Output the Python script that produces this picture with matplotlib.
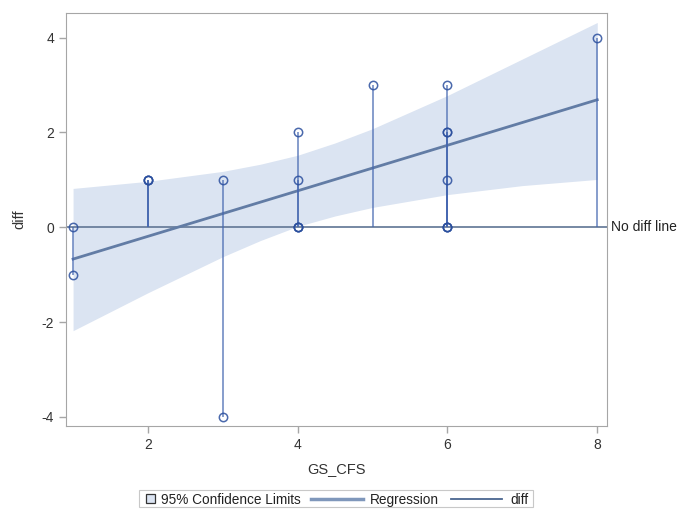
import matplotlib
matplotlib.use("Agg")
import matplotlib.pyplot as plt
from matplotlib.patches import Rectangle
from matplotlib.lines import Line2D

plt.rcParams['font.family'] = ['Liberation Sans', 'DejaVu Sans']
plt.rcParams['axes.unicode_minus'] = False

# observed (GS_CFS, diff) pairs, duplicates kept
gs_cfs = [1, 1, 2, 2, 2, 3, 3, 4, 4, 4, 4, 4, 5, 6, 6, 6, 6, 6, 6, 6, 8]
diff = [0, -1, 1, 1, 1, 1, -4, 2, 1, 0, 0, 0, 3, 3, 2, 2, 1, 0, 0, 0, 4]

# regression line and 95% confidence limits
fit_x = [1, 2, 3, 3.5, 4, 4.5, 5, 6, 7, 8]
fit_y = [-0.67, -0.19, 0.29, 0.53, 0.77, 1.01, 1.25, 1.73, 2.21, 2.69]
ci_lower = [-2.18, -1.38, -0.62, -0.28, 0.02, 0.24, 0.42, 0.69, 0.88, 1.01]
ci_upper = [0.82, 0.97, 1.18, 1.33, 1.52, 1.78, 2.08, 2.78, 3.55, 4.32]

legend_labels = ["95% Confidence Limits", "Regression", "diff"]

band_col = "#dbe4f2"
reg_col = "#627ca5"
stem_col = "#4466b0"
mark_col = "#2b4f9e"
W, H = 690, 528

fig = plt.figure(figsize=(W / 100, H / 100), dpi=100)
ax = fig.add_axes([0.0957, 0.1932, 0.784, 0.7822])

ax.fill_between(fit_x, ci_lower, ci_upper, color=band_col, lw=0, zorder=1)
ax.axhline(0, color="#6b7f9c", lw=1.3, zorder=2)
ax.plot(fit_x, fit_y, color=reg_col, lw=2, zorder=3)

# needles from zero to each value
ax.vlines(gs_cfs, 0, diff, color=stem_col, lw=1.2, alpha=0.75, zorder=4)
ax.plot(gs_cfs, diff, ls="none", marker="o", ms=6, mfc="none",
        mec=mark_col, mew=1.1, alpha=0.85, zorder=5)

ax.text(8.19, 0, "No diff line", va="center", ha="left", fontsize=10,
        color="#222222", clip_on=False)

ax.set_xlim(0.906, 8.13)
ax.set_ylim(-4.19, 4.52)
ax.set_xticks([2, 4, 6, 8])
ax.set_yticks([-4, -2, 0, 2, 4])
for s in ax.spines.values():
    s.set_color("#a6a6a6")
ax.tick_params(colors="#a6a6a6", labelcolor="#333333", labelsize=10,
               length=5, width=1)
ax.set_xlabel("GS_CFS", fontsize=10.5, color="#333333", labelpad=7)
ax.set_ylabel("diff", fontsize=10.5, color="#333333")
ax.yaxis.set_label_coords(-0.074, 0.5)

# legend drawn by hand in pixel-based figure coords
def fx(px):
    return px / W

def fy(py):
    return 1 - py / H

yc = fy(498.5)
fig.add_artist(Rectangle((fx(139), fy(507)), fx(533) - fx(139), fy(490) - fy(507),
                         transform=fig.transFigure, fill=False,
                         edgecolor="#c8c8c8", lw=0.8))
fig.add_artist(Rectangle((fx(146), fy(503)), fx(155) - fx(146), fy(494) - fy(503),
                         transform=fig.transFigure, facecolor=band_col,
                         edgecolor="#333333", lw=0.9))
fig.text(fx(161), yc, legend_labels[0], va="center_baseline", ha="left",
         fontsize=9.8, color="#222222")
fig.add_artist(Line2D([fx(311), fx(363)], [yc, yc], transform=fig.transFigure,
                      color="#7f97bb", lw=2.5))
fig.text(fx(370), yc, legend_labels[1], va="center_baseline", ha="left",
         fontsize=9.8, color="#222222")
fig.add_artist(Line2D([fx(451), fx(502)], [yc, yc], transform=fig.transFigure,
                      color="#4a6690", lw=1.3))
fig.text(fx(510), yc, legend_labels[2], va="center_baseline", ha="left",
         fontsize=9.8, color="#222222")

fig.savefig("out.png", dpi=100)
